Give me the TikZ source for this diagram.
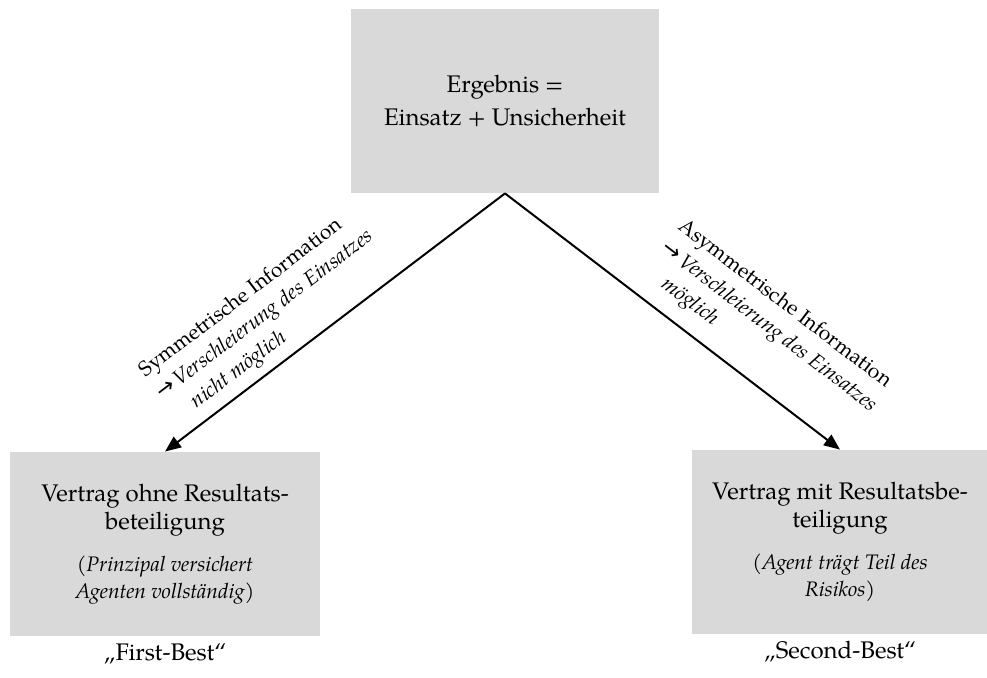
\documentclass[tikz,border=0pt]{standalone}
\usepackage{fontspec}
\setmainfont{texgyrepagella}[Extension=.otf, UprightFont=*-regular,
  ItalicFont=*-italic, BoldFont=*-bold, BoldItalicFont=*-bolditalic]
\newfontfamily\arrowfont{DejaVu Sans}
\usetikzlibrary{arrows.meta,positioning}
\definecolor{boxgray}{HTML}{D9D9D9}
\newcommand{\infoarrow}{{\arrowfont\fontsize{11}{11}\selectfont →}\,}
\tikzset{
  resultbox/.style={
    rectangle, fill=boxgray, draw=none,
    minimum width=#1, minimum height=92pt,
    font=\fontsize{12}{14}\selectfont, align=center,
    inner sep=4pt
  },
  resultbox/.default=155pt,
  flowarrow/.style={
    -{Triangle[length=8pt,width=6.5pt]}, line width=1pt, color=black
  },
  infolabel/.style={font=\fontsize{10.5}{14}\selectfont, align=left,
    inner sep=2pt},
  bestlabel/.style={font=\fontsize{12}{14}\selectfont},
}
\newcommand{\note}[1]{{\fontsize{10.5}{13.5}\selectfont #1}}

\begin{document}
\begin{tikzpicture}[x=0.5pt, y=0.5pt]
  \useasboundingbox (0,0) rectangle (987,-678);
  % boxes
  \node[resultbox=154pt] (ergebnis) at (505,-101)
    {Ergebnis =\\[2.5pt]Einsatz + Unsicherheit};
  \node[resultbox=155pt] (ohne) at (165,-544)
    {Vertrag ohne Resultats-\\beteiligung\\[7pt]
     \note{(\textit{Prinzipal versichert}}\\[-0.5pt]\note{\textit{Agenten vollständig)}}};
  \node[resultbox=148pt] (mit) at (840,-542)
    {Vertrag mit Resultatsbe-\\teiligung\\[7pt]
     \note{\textit{(Agent trägt Teil des}}\\[-0.5pt]\note{\textit{Risikos)}}};
  \node[bestlabel, below=0pt of ohne] (firstbest) {„First-Best“};
  \node[bestlabel, below=0pt of mit] (secondbest) {„Second-Best“};
  % arrows
  \draw[flowarrow] (ergebnis.south) --
    node[infolabel, sloped, above=2pt, pos=0.62] (symlabel)
      {Symmetrische Information\\
       \infoarrow\textit{Verschleierung des Einsatzes}\\
       \hphantom{\infoarrow}\textit{nicht möglich}}
    (ohne.north);
  \draw[flowarrow] (ergebnis.south) --
    node[infolabel, sloped, above=5pt, pos=0.69] (asymlabel)
      {Asymmetrische Information\\
       \infoarrow\textit{Verschleierung des Einsatzes}\\
       \hphantom{\infoarrow}\textit{möglich}}
    (mit.north);
\end{tikzpicture}
\end{document}
